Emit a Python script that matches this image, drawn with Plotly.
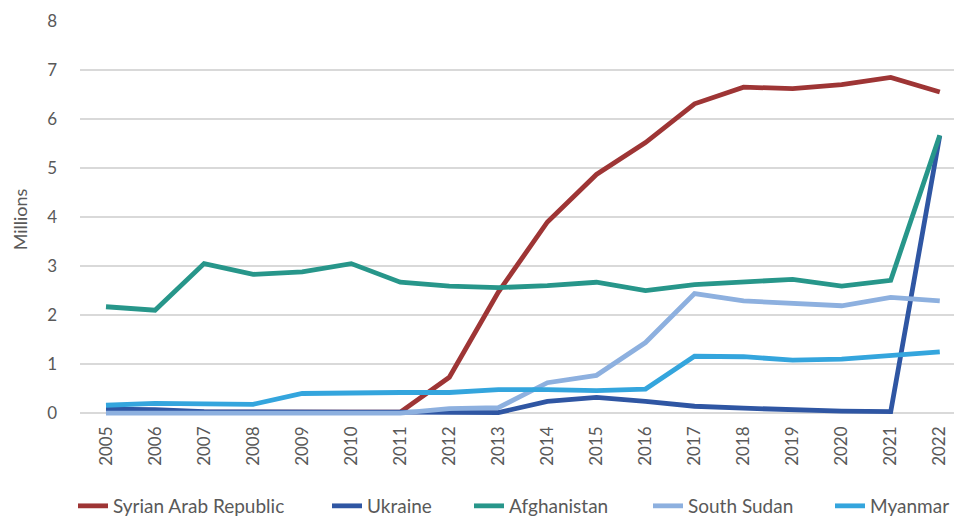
import plotly.graph_objects as go

years = [str(y) for y in range(2005, 2023)]

syria = [0.02, 0.02, 0.02, 0.02, 0.02, 0.02, 0.02, 0.73, 2.47, 3.90, 4.87, 5.52, 6.31, 6.65, 6.62, 6.70, 6.85, 6.55]
ukraine = [0.08, 0.07, 0.03, 0.02, 0.02, 0.02, 0.02, 0.02, 0.01, 0.24, 0.32, 0.24, 0.14, 0.10, 0.06, 0.04, 0.03, 5.66]
afghanistan = [2.17, 2.10, 3.05, 2.83, 2.88, 3.05, 2.67, 2.59, 2.56, 2.60, 2.67, 2.50, 2.62, 2.68, 2.73, 2.59, 2.71, 5.67]
south_sudan = [0.0, 0.0, 0.0, 0.0, 0.0, 0.0, 0.0, 0.09, 0.11, 0.62, 0.77, 1.44, 2.44, 2.29, 2.24, 2.19, 2.36, 2.29]
myanmar = [0.16, 0.20, 0.19, 0.18, 0.40, 0.42, 0.42, 0.42, 0.48, 0.48, 0.46, 0.49, 1.16, 1.15, 1.08, 1.10, 1.18, 1.25]

names = ["Syrian Arab Republic", "Ukraine", "Afghanistan", "South Sudan", "Myanmar"]
colors = ["#9E3535", "#2F56A3", "#27968A", "#8DB0DF", "#34A5DD"]
values = [syria, ukraine, afghanistan, south_sudan, myanmar]

# left edge (px) of each legend entry, one legend per series
legend_x_px = [73, 327, 469, 648, 830]

W, H = 954, 517
gray = "#595959"
font = "Lato, 'Open Sans', sans-serif"

fig = go.Figure()
legend_ids = ["legend"] + [f"legend{i}" for i in range(2, len(names) + 1)]
for name, vals, color, lid in zip(names, values, colors, legend_ids):
    fig.add_trace(go.Scatter(
        x=years, y=vals, name=name, mode="lines",
        line=dict(color=color, width=4.8),
        cliponaxis=False, legend=lid,
    ))

legends = {}
for lid, xp in zip(legend_ids, legend_x_px):
    legends[lid] = dict(
        orientation="h", xref="container", yref="container",
        x=xp / W, xanchor="left", y=1 - 506 / H, yanchor="middle",
        font=dict(size=19, color=gray), borderwidth=0,
        bgcolor="rgba(0,0,0,0)",
    )

fig.update_layout(
    width=W, height=H,
    margin=dict(l=80, r=0, t=21, b=99),
    paper_bgcolor="white", plot_bgcolor="white",
    font=dict(family=font, color=gray, size=17),
    showlegend=True,
    xaxis=dict(
        type="category", range=[-0.53, 17.29], automargin=False,
        tickangle=-90, showgrid=False, showline=False, ticks="",
        ticklabelstandoff=4,
        tickfont=dict(size=17, color=gray), fixedrange=True,
    ),
    yaxis=dict(
        range=[-0.1, 8], tickvals=[0, 1, 2, 3, 4, 5, 6, 7, 8], automargin=False,
        showgrid=True, gridcolor="#D9D9D9", gridwidth=1.5,
        zeroline=False, showline=False, ticks="",
        ticklabelstandoff=22,
        tickfont=dict(size=17, color=gray),
        title=dict(text="Millions", font=dict(size=18, color=gray), standoff=14),
        fixedrange=True,
    ),
    **legends,
)

fig.write_html("out.html", config={"displayModeBar": False},
               post_script="document.body.style.margin='0';")
